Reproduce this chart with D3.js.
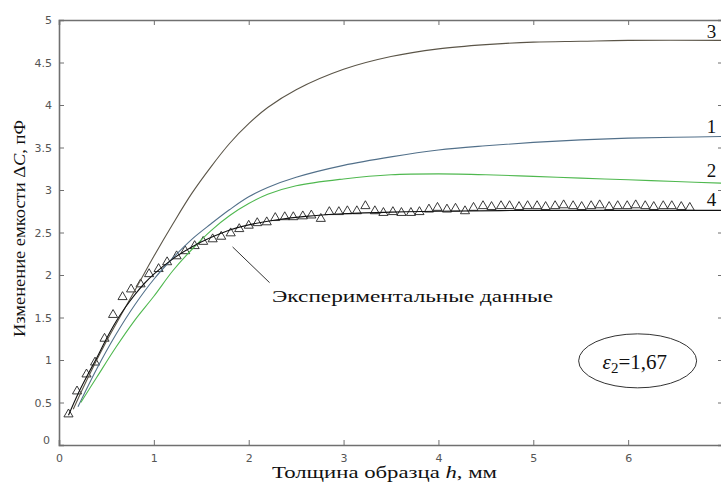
<!DOCTYPE html>
<html>
<head>
<meta charset="utf-8">
<script src="https://cdn.jsdelivr.net/npm/d3@7"></script>
<style>
  body { margin: 0; background: #fff; }
  svg { display: block; }
</style>
</head>
<body>
<div id="chart"></div>
<script>
// thickness h (mm) and capacitance change dC (pF)
const curve1 = [[0.2,0.45],[0.4,0.9],[0.6,1.3],[0.8,1.65],[1.0,1.95],[1.2,2.2],[1.4,2.42],[1.6,2.6],[1.8,2.77],[2.0,2.92],[2.2,3.03],[2.5,3.15],[3.0,3.29],[3.5,3.39],[4.0,3.47],[4.5,3.52],[5.0,3.56],[5.5,3.59],[6.0,3.61],[6.5,3.62],[7.0,3.63]];
const curve2 = [[0.23,0.5],[0.4,0.8],[0.6,1.15],[0.8,1.47],[1.0,1.75],[1.2,2.05],[1.4,2.3],[1.6,2.52],[1.8,2.7],[2.0,2.84],[2.2,2.95],[2.5,3.05],[3.0,3.13],[3.5,3.18],[4.0,3.19],[4.5,3.18],[5.0,3.16],[5.5,3.14],[6.0,3.12],[6.5,3.1],[7.0,3.08]];
const curve3 = [[0.15,0.42],[0.3,0.78],[0.5,1.22],[0.7,1.62],[0.85,1.92],[1.0,2.22],[1.2,2.6],[1.4,2.96],[1.6,3.27],[1.8,3.55],[2.0,3.78],[2.2,3.97],[2.5,4.18],[3.0,4.42],[3.5,4.57],[4.0,4.66],[4.5,4.71],[5.0,4.74],[5.5,4.75],[6.0,4.76],[7.0,4.76]];
const curve4 = [[0.1,0.35],[0.2,0.6],[0.3,0.82],[0.4,1.03],[0.5,1.25],[0.6,1.45],[0.7,1.62],[0.8,1.77],[0.9,1.9],[1.0,2.01],[1.2,2.19],[1.4,2.33],[1.6,2.44],[1.8,2.53],[2.0,2.59],[2.3,2.65],[2.6,2.69],[3.0,2.72],[3.5,2.74],[4.0,2.75],[5.0,2.76],[6.0,2.76],[7.0,2.76]];

// experimental points
const expH = [0.10,0.19,0.29,0.38,0.48,0.57,0.67,0.76,0.86,0.95,1.05,1.14,1.24,1.33,1.43,1.52,1.62,1.71,1.81,1.90,2.00,2.09,2.19,2.28,2.38,2.47,2.57,2.66,2.76,2.85,2.95,3.04,3.14,3.23,3.33,3.42,3.52,3.61,3.71,3.80,3.90,3.99,4.09,4.18,4.28,4.37,4.47,4.56,4.66,4.75,4.85,4.94,5.04,5.13,5.23,5.32,5.42,5.51,5.61,5.70,5.80,5.89,5.99,6.08,6.18,6.27,6.37,6.46,6.56,6.65];
const expC = [0.35,0.62,0.82,0.96,1.24,1.52,1.73,1.82,1.88,2.00,2.06,2.14,2.21,2.27,2.33,2.38,2.41,2.44,2.48,2.53,2.57,2.60,2.61,2.66,2.67,2.67,2.68,2.69,2.65,2.73,2.73,2.74,2.74,2.80,2.74,2.72,2.73,2.72,2.72,2.73,2.76,2.78,2.76,2.77,2.74,2.78,2.80,2.79,2.80,2.80,2.79,2.80,2.80,2.79,2.80,2.81,2.80,2.79,2.80,2.81,2.79,2.80,2.80,2.81,2.80,2.79,2.80,2.80,2.79,2.78];

const xTicks = [0, 1, 2, 3, 4, 5, 6];
const yTicks = [0, 0.5, 1, 1.5, 2, 2.5, 3, 3.5, 4, 4.5, 5];

const curves = [
  { data: curve3, color: '#5b5548', label: '3', labelAt: 4.79 },
  { data: curve1, color: '#52708a', label: '1', labelAt: 3.67 },
  { data: curve2, color: '#4fb84f', label: '2', labelAt: 3.15 },
  { data: curve4, color: '#111111', label: '4', labelAt: 2.81 }
];

const W = 721, H = 489;
const margin = { left: 59, top: 20, right: 723, bottom: 445 };

const x = d3.scaleLinear().domain([0, 7]).range([margin.left, margin.right]);
const y = d3.scaleLinear().domain([0, 5]).range([margin.bottom, margin.top]);

const svg = d3.select('#chart').append('svg')
  .attr('width', W)
  .attr('height', H);

const axisColor = '#707070';
const tickFont = '"DejaVu Sans", "Liberation Sans", sans-serif';
const serif = '"Times New Roman", "Liberation Serif", "DejaVu Serif", serif';

// axes, ticks inward on all four sides
const bottomAxis = svg.append('g')
  .attr('transform', `translate(0,${margin.bottom})`)
  .call(d3.axisBottom(x).tickValues(xTicks).tickSize(-5).tickPadding(9).tickFormat(d3.format('d')));
const topAxis = svg.append('g')
  .attr('transform', `translate(0,${margin.top})`)
  .call(d3.axisTop(x).tickValues(xTicks).tickSize(-5).tickFormat(''));
const leftAxis = svg.append('g')
  .attr('transform', `translate(${margin.left},0)`)
  .call(d3.axisLeft(y).tickValues(yTicks).tickSize(-5).tickPadding(7).tickFormat(d => d));
const rightAxis = svg.append('g')
  .attr('transform', `translate(${margin.right},0)`)
  .call(d3.axisRight(y).tickValues(yTicks).tickSize(-5).tickFormat(''));

[bottomAxis, topAxis, leftAxis, rightAxis].forEach(g => {
  g.select('.domain').attr('stroke', axisColor).attr('stroke-width', 1.6);
  g.selectAll('.tick line').attr('stroke', axisColor).attr('stroke-width', 1);
  g.selectAll('.tick text')
    .attr('fill', '#555')
    .style('font-family', tickFont)
    .style('font-size', '11px');
});
// no ticks at the axis ends, as in the picture
bottomAxis.selectAll('.tick').filter(d => d === 0).select('line').remove();
leftAxis.selectAll('.tick').filter(d => d === 0 || d === 5).select('line').remove();
leftAxis.selectAll('.tick').filter(d => d === 0).select('text').attr('dx', -2).attr('dy', '-0.1em');

const line = d3.line()
  .x(d => x(d[0]))
  .y(d => y(d[1]))
  .curve(d3.curveCatmullRom.alpha(0.5));

const plot = svg.append('g');

// experimental triangles
plot.selectAll('.pt')
  .data(expH.map((h, i) => [h, expC[i]]))
  .enter()
  .append('path')
  .attr('class', 'pt')
  .attr('d', d3.symbol().type(d3.symbolTriangle).size(36))
  .attr('transform', d => `translate(${x(d[0])},${y(d[1]) - 1})`)
  .attr('fill', 'none')
  .attr('stroke', '#222')
  .attr('stroke-width', 0.9);

plot.selectAll('.curve')
  .data(curves)
  .enter()
  .append('path')
  .attr('class', 'curve')
  .attr('d', d => line(d.data))
  .attr('fill', 'none')
  .attr('stroke', d => d.color)
  .attr('stroke-width', 1.1);

// curve labels at the right edge
svg.selectAll('.clabel')
  .data(curves)
  .enter()
  .append('text')
  .attr('class', 'clabel')
  .attr('x', x(6.88))
  .attr('y', d => y(d.labelAt))
  .attr('text-anchor', 'middle')
  .style('font-family', serif)
  .style('font-size', '19px')
  .attr('fill', '#111')
  .text(d => d.label);

// annotation for experimental data
svg.append('line')
  .attr('x1', x(1.83)).attr('y1', y(2.33))
  .attr('x2', x(2.22)).attr('y2', y(1.91))
  .attr('stroke', '#333')
  .attr('stroke-width', 1);
svg.append('text')
  .attr('x', 272)
  .attr('y', 302)
  .style('font-family', serif)
  .style('font-size', '16px')
  .attr('textLength', 281)
  .attr('lengthAdjust', 'spacingAndGlyphs')
  .attr('fill', '#111')
  .text('Экспериментальные данные');

// epsilon ellipse
svg.append('ellipse')
  .attr('cx', x(6.1)).attr('cy', y(0.99))
  .attr('rx', 59).attr('ry', 27)
  .attr('fill', 'none')
  .attr('stroke', '#333')
  .attr('stroke-width', 1);
const eps = svg.append('text')
  .attr('x', x(6.07))
  .attr('y', y(0.9))
  .attr('text-anchor', 'middle')
  .style('font-family', serif)
  .style('font-size', '21px')
  .attr('fill', '#111');
eps.append('tspan').style('font-style', 'italic').text('ε');
eps.append('tspan').attr('dy', 4).style('font-size', '15px').text('2');
eps.append('tspan').attr('dy', -4).text('=1,67');

// axis titles
const xt = svg.append('text')
  .attr('x', 272)
  .attr('y', 478)
  .style('font-family', serif)
  .style('font-size', '16px')
  .attr('textLength', 225)
  .attr('lengthAdjust', 'spacingAndGlyphs')
  .attr('fill', '#111');
xt.append('tspan').text('Толщина образца ');
xt.append('tspan').style('font-style', 'italic').text('h');
xt.append('tspan').text(', мм');

const yt = svg.append('text')
  .attr('transform', 'translate(25,337) rotate(-90)')
  .style('font-family', serif)
  .style('font-size', '16px')
  .attr('textLength', 217)
  .attr('lengthAdjust', 'spacingAndGlyphs')
  .attr('fill', '#111');
yt.append('tspan').text('Изменение емкости Δ');
yt.append('tspan').style('font-style', 'italic').text('C');
yt.append('tspan').text(', пФ');
</script>
</body>
</html>
